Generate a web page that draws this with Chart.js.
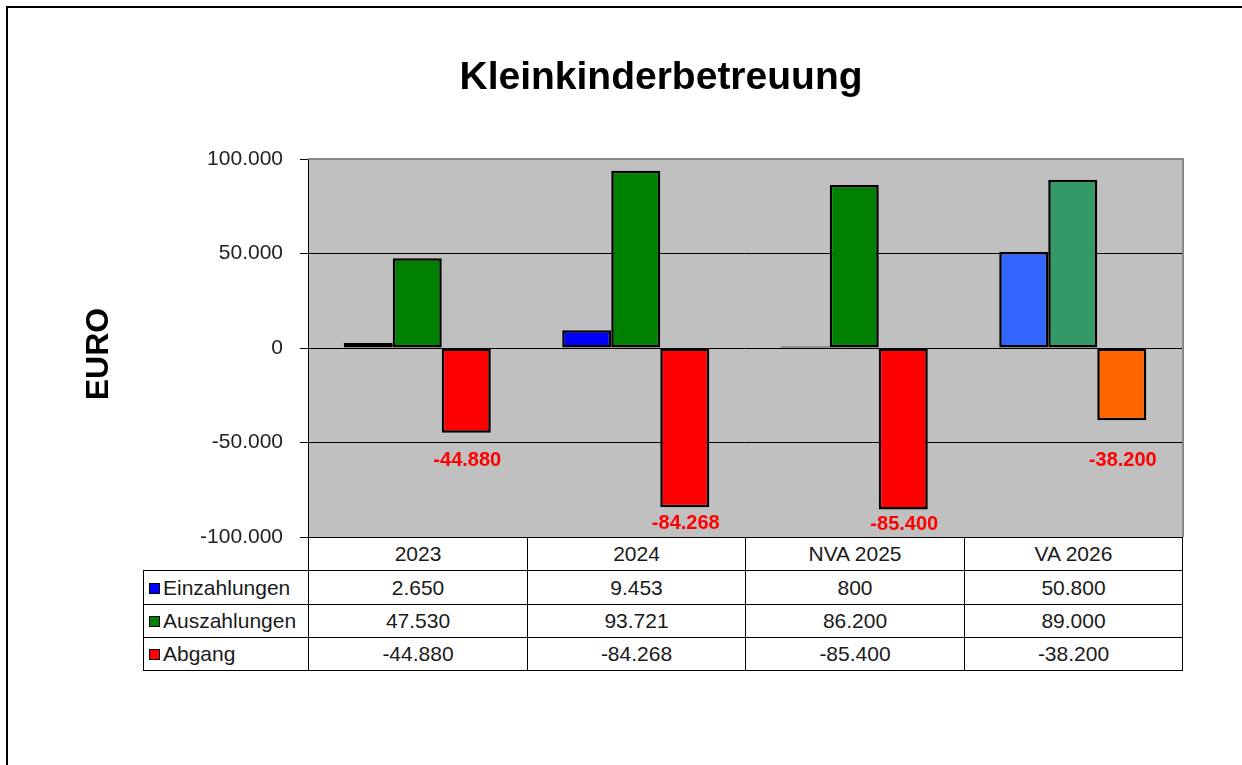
<!DOCTYPE html>
<html>
<head>
<meta charset="utf-8">
<script src="https://cdn.jsdelivr.net/npm/chart.js@4.4.1/dist/chart.umd.min.js"></script>
<style>
  html, body { margin: 0; padding: 0; background: #fff; }
  #wrap { position: relative; width: 1242px; height: 765px; overflow: hidden; }
  #chart { position: absolute; left: 0; top: 0; }
  .cell {
    position: absolute; box-sizing: border-box; border: 1px solid #000;
    font: 21px "Liberation Sans", Arial, sans-serif; color: #1a1a1a;
    text-align: center; white-space: nowrap; background: #fff;
  }
  .cell.name { text-align: left; padding-left: 5px; }
  .key {
    display: inline-block; width: 9px; height: 9px; border: 1px solid #000;
    margin-right: 3px; vertical-align: 1px;
  }
</style>
</head>
<body>
<div id="wrap">
  <canvas id="chart" width="1242" height="765"></canvas>
  <div id="table"></div>
</div>
<script>
'use strict';

// --- Daten aus der Grafik ---
const categories = ['2023', '2024', 'NVA 2025', 'VA 2026'];
const seriesNames = ['Einzahlungen', 'Auszahlungen', 'Abgang'];
const einzahlungen = [2650, 9453, 800, 50800];
const auszahlungen = [47530, 93721, 86200, 89000];
const abgang = [-44880, -84268, -85400, -38200];
const yTicks = [-100000, -50000, 0, 50000, 100000];

// Farben (letzte Kategorie ist anders eingefärbt)
const COLORS = {
    ein: ['#0000FF', '#0000FF', '#0000FF', '#3366FF'],
    aus: ['#008000', '#008000', '#008000', '#339966'],
    abg: ['#FF0000', '#FF0000', '#FF0000', '#FF6600']
};
const KEY_COLORS = ['#0000FF', '#008000', '#FF0000'];
const FONT = '"Liberation Sans", Arial, sans-serif';
// Abstand der roten Beschriftungen unter dem Balkenende (wie im Original verschoben)
const LABEL_DY = [28, 16, 15, 40];

// Zahlen im deutschen Format: 44880 -> 44.880
function fmt(v) {
    const s = String(Math.abs(Math.round(v))).replace(/\B(?=(\d{3})+(?!\d))/g, '.');
    return (v < 0 ? '-' : '') + s;
}

const decor = {
    id: 'decor',
    beforeDraw(chart) {
        const { ctx, chartArea: a } = chart;
        ctx.save();
        ctx.fillStyle = '#fff';
        ctx.fillRect(0, 0, chart.width, chart.height);
        ctx.fillStyle = '#C0C0C0';
        ctx.fillRect(a.left, a.top, a.right - a.left, a.bottom - a.top);
        ctx.restore();
    },
    afterDatasetsDraw(chart) {
        const { ctx, chartArea: a } = chart;
        ctx.save();
        // grauer Rahmen oben / rechts
        ctx.fillStyle = '#888';
        ctx.fillRect(a.left, a.top - 1, a.right - a.left + 2, 2);
        ctx.fillRect(a.right, a.top - 1, 2, a.bottom - a.top + 1);

        // Beschriftung der Abgang-Balken
        const meta = chart.getDatasetMeta(2);
        ctx.font = 'bold 20px ' + FONT;
        ctx.fillStyle = '#FF0000';
        ctx.textAlign = 'center';
        ctx.textBaseline = 'middle';
        meta.data.forEach((bar, i) => {
            ctx.fillText(fmt(abgang[i]), bar.x + 1, bar.y + LABEL_DY[i]);
        });
        ctx.restore();
    },
    afterDraw(chart) {
        const { ctx } = chart;
        ctx.save();
        ctx.fillStyle = '#000';
        ctx.textAlign = 'center';
        ctx.textBaseline = 'middle';
        ctx.font = 'bold 39px ' + FONT;
        ctx.fillText('Kleinkinderbetreuung', 661, 78);

        ctx.translate(99, 354);
        ctx.rotate(-Math.PI / 2);
        ctx.font = 'bold 32px ' + FONT;
        ctx.fillText('EURO', 0, 0);
        ctx.restore();

        // äußerer Rahmen (nur links und oben sichtbar)
        ctx.fillStyle = '#000';
        ctx.fillRect(6, 6, 2, chart.height);
        ctx.fillRect(6, 6, chart.width, 2);
    }
};

const chart = new Chart(document.getElementById('chart'), {
    type: 'bar',
    data: {
        labels: categories,
        datasets: [
            { label: seriesNames[0], data: einzahlungen, backgroundColor: COLORS.ein },
            { label: seriesNames[1], data: auszahlungen, backgroundColor: COLORS.aus },
            { label: seriesNames[2], data: abgang, backgroundColor: COLORS.abg }
        ].map(ds => Object.assign(ds, {
            borderColor: '#000', borderWidth: 2.5, borderSkipped: false,
            categoryPercentage: 0.673, barPercentage: 1.0
        }))
    },
    options: {
        responsive: false,
        animation: false,
        devicePixelRatio: 1,
        events: [],
        layout: { padding: { left: 0, top: 159, right: 60, bottom: 228 } },
        plugins: { legend: { display: false }, tooltip: { enabled: false }, title: { display: false } },
        scales: {
            x: { display: false },
            y: {
                min: yTicks[0], max: yTicks[yTicks.length - 1],
                afterFit(scale) { scale.width = 308; },
                afterBuildTicks(scale) { scale.ticks = yTicks.map(v => ({ value: v })); },
                border: { display: true, color: '#000', width: 1 },
                grid: {
                    color: c => (Math.abs(c.tick.value) === 100000 ? 'rgba(0,0,0,0)' : '#000'),
                    tickColor: '#000', tickLength: 8, lineWidth: 1
                },
                ticks: {
                    padding: 17, color: '#222',
                    font: { family: FONT, size: 21 },
                    callback: v => fmt(v)
                }
            }
        }
    },
    plugins: [decor]
});

// --- Datentabelle unter dem Diagramm (HTML, an den Kategorien ausgerichtet) ---
function buildTable() {
    const a = chart.chartArea;
    const host = document.getElementById('table');
    const colW = (a.right - a.left) / categories.length;
    const nameLeft = 143;
    const rowH = 33.3;
    const rows = [einzahlungen, auszahlungen, abgang];

    function cell(x, y, w, h, html, cls) {
        const d = document.createElement('div');
        d.className = 'cell' + (cls ? ' ' + cls : '');
        d.style.left = Math.round(x) + 'px';
        d.style.top = Math.round(y) + 'px';
        d.style.width = (Math.round(x + w) - Math.round(x) + 1) + 'px';
        d.style.height = (Math.round(y + h) - Math.round(y) + 1) + 'px';
        d.style.lineHeight = (Math.round(y + h) - Math.round(y) - 1) + 'px';
        d.innerHTML = html;
        host.appendChild(d);
    }

    categories.forEach((c, i) => cell(a.left + i * colW, a.bottom, colW, rowH, c));
    rows.forEach((vals, r) => {
        const y = a.bottom + (r + 1) * rowH;
        cell(nameLeft, y, a.left - nameLeft, rowH,
            '<span class="key" style="background:' + KEY_COLORS[r] + '"></span>' + seriesNames[r], 'name');
        vals.forEach((v, i) => cell(a.left + i * colW, y, colW, rowH, fmt(v)));
    });
}
buildTable();
</script>
</body>
</html>
